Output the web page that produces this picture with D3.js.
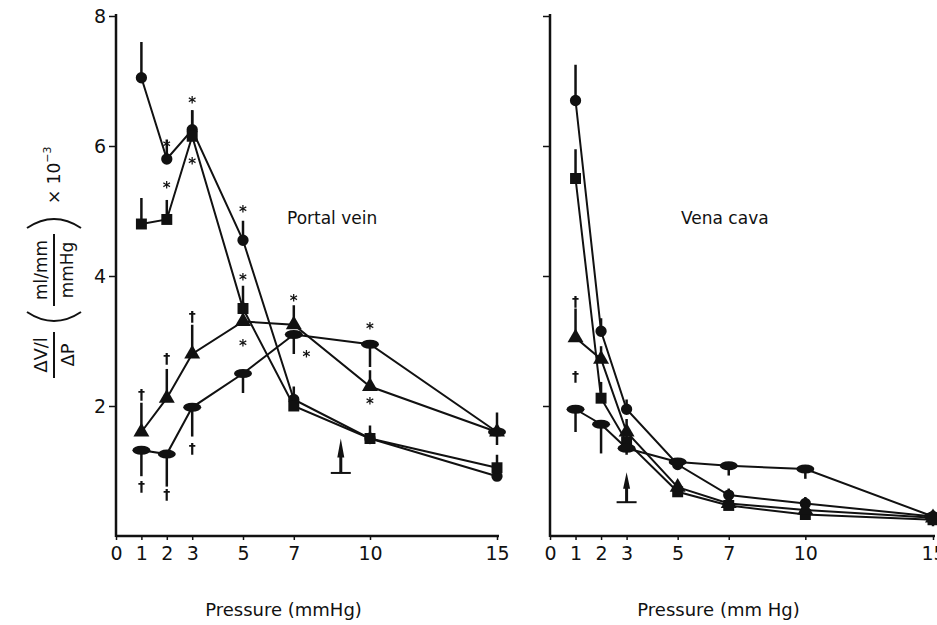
<!DOCTYPE html>
<meta charset="utf-8">
<style>
  body { margin: 0; background: #fff; }
  svg text { font-family: "DejaVu Sans", "Liberation Sans", sans-serif; fill: #111; }
  .axis path, .axis line { stroke: #111; }
  .line { fill: none; stroke: #111; stroke-width: 2px; }
  .err { stroke: #111; stroke-width: 2.5px; }
</style>
<script src="https://cdn.jsdelivr.net/npm/d3@7"></script>
<svg id="chart" width="937" height="625">
  <defs>
    <filter id="gray"><feColorMatrix type="saturate" values="0"/></filter>
  </defs>
</svg>
<script>
// pressure levels (mmHg)
var pressures = [1, 2, 3, 5, 7, 10, 15];
var xTicks = [0, 1, 2, 3, 5, 7, 10, 15];
var yTicks = [2, 4, 6, 8];

// portal vein
var pvCircle   = [7.05, 5.8, 6.25, 4.55, 2.1, 1.5, 0.92];
var pvSquare   = [4.8, 4.87, 6.15, 3.5, 2.0, 1.5, 1.05];
var pvTriangle = [1.6, 2.12, 2.8, 3.3, 3.25, 2.3, 1.6];
var pvEllipse  = [1.32, 1.26, 1.98, 2.5, 3.1, 2.95, 1.6];
var pvCircleErr   = [0.55, 0.3, 0.3, 0.3, 0.1, 0.1, 0.1];
var pvSquareErr   = [0.4, 0.3, 0.4, 0.35, 0.3, 0.2, 0.2];
var pvTriangleErr = [0.45, 0.45, 0.45, 0.3, 0.3, 0.25, 0.3];
var pvEllipseErr  = [0.4, 0.5, 0.45, 0.3, 0.3, 0.35, 0.2];

// vena cava
var vcCircle   = [6.7, 3.15, 1.95, 1.1, 0.63, 0.5, 0.3];
var vcSquare   = [5.5, 2.12, 1.45, 0.68, 0.47, 0.33, 0.25];
var vcTriangle = [3.05, 2.72, 1.6, 0.75, 0.5, 0.4, 0.28];
var vcEllipse  = [1.95, 1.72, 1.35, 1.14, 1.08, 1.03, 0.3];
var vcCircleErr   = [0.55, 0.2, 0.15, 0.1, 0.1, 0.1, 0.1];
var vcSquareErr   = [0.45, 0.25, 0.15, 0.1, 0.1, 0.1, 0.1];
var vcTriangleErr = [0.45, 0.2, 0.2, 0.1, 0.1, 0.15, 0.1];
var vcEllipseErr  = [0.35, 0.45, 0.1, 0.1, 0.15, 0.15, 0.15];

// significance marks [pressure, value, symbol]
var pvMarks = [[2, 6.0, "*"], [2, 5.37, "*"], [3, 6.68, "*"], [3, 5.74, "*"],
  [5, 5.0, "*"], [5, 3.95, "*"], [5, 2.94, "*"], [7, 3.63, "*"], [7.5, 2.77, "*"],
  [10, 3.2, "*"], [10, 2.05, "*"],
  [1, 2.2, "†"], [1, 0.78, "†"], [2, 2.75, "†"], [2, 0.66, "†"], [3, 3.4, "†"], [3, 1.37, "†"]];
var vcMarks = [[1, 3.63, "†"], [1, 2.48, "†"]];

// arrows [pressure, top value, base value]
var pvArrow = [8.85, 1.5, 0.97];
var vcArrow = [3, 0.98, 0.52];

var svg = d3.select("#chart");
var y = d3.scaleLinear().domain([0, 8]).range([536, 16]);

function panel(x0, x15, series, marks, arrow, name, nameX, showLabels, xTitle) {
  var x = d3.scaleLinear().domain([0, 15]).range([x0, x15]);
  var g = svg.append("g");

  // axes
  var yAx = d3.axisLeft(y).tickValues(yTicks).tickSize(7)
    .tickFormat(showLabels ? d3.format("d") : "");
  g.append("g").attr("class", "axis").attr("transform", "translate(" + x0 + ",0)")
    .call(yAx)
    .call(function(s) {
      s.select(".domain").attr("d", "M0," + (y(0) + 1) + "V" + (y(8) - 2)).attr("stroke-width", 2.5);
      s.selectAll(".tick line").attr("stroke-width", 1.5);
      s.selectAll(".tick text").attr("font-size", 19).attr("x", -10)
        .style("font-family", "'DejaVu Sans', sans-serif");
    });
  var xAx = d3.axisBottom(x).tickValues(xTicks).tickSize(4);
  g.append("g").attr("class", "axis").attr("transform", "translate(0," + y(0) + ")")
    .call(xAx)
    .call(function(s) {
      s.select(".domain").attr("d", "M" + x0 + ",0H" + (x15 + 2)).attr("stroke-width", 2.5);
      s.selectAll(".tick line").attr("stroke-width", 1.5);
      s.selectAll(".tick text").attr("font-size", 19).attr("y", 11)
        .style("font-family", "'DejaVu Sans', sans-serif");
    });

  g.append("text").attr("x", (x(0) + x(15)) / 2 - 23).attr("y", 616)
    .attr("text-anchor", "middle").attr("font-size", 18).text(xTitle);
  g.append("text").attr("x", nameX).attr("y", 224)
    .attr("font-size", 17).text(name);

  var line = d3.line().x(function(d) { return x(d.p); }).y(function(d) { return y(d.v); });

  series.forEach(function(s) {
    var pts = pressures.map(function(p, i) { return { p: p, v: s.values[i], e: s.err[i] }; });
    g.append("path").datum(pts).attr("class", "line").attr("d", line);
    // error bars
    g.selectAll(null).data(pts).enter().append("line").attr("class", "err")
      .attr("x1", function(d) { return x(d.p); }).attr("x2", function(d) { return x(d.p); })
      .attr("y1", function(d) { return y(d.v); })
      .attr("y2", function(d) { return y(d.v + s.dir * d.e); });
    var m = g.selectAll(null).data(pts).enter();
    if (s.shape === "ellipse") {
      m.append("ellipse").attr("cx", function(d) { return x(d.p); })
        .attr("cy", function(d) { return y(d.v); })
        .attr("rx", 9).attr("ry", 4.5).attr("fill", "#111");
    } else {
      m.append("path")
        .attr("transform", function(d) { return "translate(" + x(d.p) + "," + y(d.v) + ")"; })
        .attr("d", d3.symbol().type(s.shape).size(s.size)).attr("fill", "#111");
    }
  });

  g.append("g").attr("filter", "url(#gray)").selectAll("text").data(marks).enter().append("text")
    .attr("x", function(d) { return x(d[0]); })
    .attr("y", function(d) { return y(d[1]) + 6; })
    .attr("text-anchor", "middle")
    .attr("font-weight", "bold")
    .attr("font-size", function(d) { return d[2] === "*" ? 15 : 14; })
    .text(function(d) { return d[2]; });

  // arrow
  var ax = x(arrow[0]), at = y(arrow[1]), ab = y(arrow[2]);
  var mid = at + (ab - at) * 0.55;
  g.append("path").attr("fill", "#111")
    .attr("d", "M" + ax + "," + at + "L" + (ax + 3.5) + "," + mid +
      "L" + (ax + 1.5) + "," + mid + "L" + (ax + 1.5) + "," + ab +
      "L" + (ax - 1.5) + "," + ab + "L" + (ax - 1.5) + "," + mid +
      "L" + (ax - 3.5) + "," + mid + "Z");
  g.append("line").attr("stroke", "#111").attr("stroke-width", 2)
    .attr("x1", ax - 10).attr("x2", ax + 10).attr("y1", ab).attr("y2", ab);
}

panel(116, 497, [
  { values: pvCircle, err: pvCircleErr, shape: d3.symbolCircle, size: 100, dir: 1 },
  { values: pvSquare, err: pvSquareErr, shape: d3.symbolSquare, size: 120, dir: 1 },
  { values: pvTriangle, err: pvTriangleErr, shape: d3.symbolTriangle, size: 110, dir: 1 },
  { values: pvEllipse, err: pvEllipseErr, shape: "ellipse", dir: -1 }
], pvMarks, pvArrow, "Portal vein", 287, true, "Pressure (mmHg)");

panel(550, 933, [
  { values: vcCircle, err: vcCircleErr, shape: d3.symbolCircle, size: 100, dir: 1 },
  { values: vcSquare, err: vcSquareErr, shape: d3.symbolSquare, size: 120, dir: 1 },
  { values: vcTriangle, err: vcTriangleErr, shape: d3.symbolTriangle, size: 110, dir: 1 },
  { values: vcEllipse, err: vcEllipseErr, shape: "ellipse", dir: -1 }
], vcMarks, vcArrow, "Vena cava", 681, false, "Pressure (mm Hg)");

// y-axis title, rotated
var lab = svg.append("g").attr("transform", "translate(54,380) rotate(-90)");
lab.append("text").attr("x", 25).attr("y", -7).attr("text-anchor", "middle")
  .attr("font-size", 18).text("ΔV/l");
lab.append("line").attr("x1", 2).attr("x2", 48).attr("y1", 0).attr("y2", 0)
  .attr("stroke", "#111").attr("stroke-width", 2);
lab.append("text").attr("x", 25).attr("y", 20).attr("text-anchor", "middle")
  .attr("font-size", 18).text("ΔP");
lab.append("path").attr("d", "M68,-27 Q50,0 68,27").attr("fill", "none")
  .attr("stroke", "#111").attr("stroke-width", 2);
lab.append("text").attr("x", 110).attr("y", -7).attr("text-anchor", "middle")
  .attr("font-size", 17).text("ml/mm");
lab.append("line").attr("x1", 74).attr("x2", 146).attr("y1", 0).attr("y2", 0)
  .attr("stroke", "#111").attr("stroke-width", 2);
lab.append("text").attr("x", 110).attr("y", 19).attr("text-anchor", "middle")
  .attr("font-size", 17).text("mmHg");
lab.append("path").attr("d", "M152,-27 Q170,0 152,27").attr("fill", "none")
  .attr("stroke", "#111").attr("stroke-width", 2);
lab.append("text").attr("x", 176).attr("y", 6).attr("font-size", 17)
  .text("× 10").append("tspan").attr("dy", -9).attr("font-size", 11).text("−3");
</script>
